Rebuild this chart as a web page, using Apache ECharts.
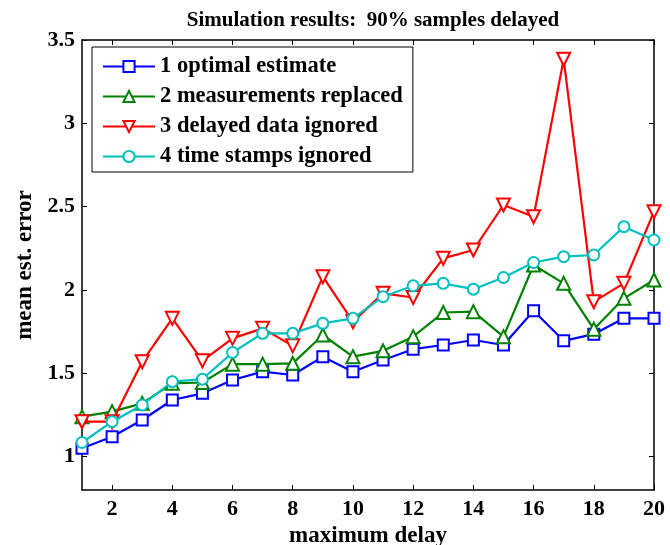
<!DOCTYPE html>
<html><head><meta charset="utf-8">
<script src="https://cdn.jsdelivr.net/npm/echarts@6/dist/echarts.min.js"></script>
<style>html,body{margin:0;padding:0;background:#fff}#c{width:670px;height:545px}</style>
</head><body><div id="c"></div>
<script>
const delays = [1,2,3,4,5,6,7,8,9,10,11,12,13,14,15,16,17,18,19,20];
const optimal = [1.05,1.12,1.22,1.34,1.38,1.46,1.51,1.49,1.60,1.51,1.58,1.645,1.67,1.70,1.67,1.875,1.695,1.735,1.83,1.83];
const replaced = [1.24,1.27,1.32,1.44,1.445,1.555,1.555,1.56,1.73,1.60,1.635,1.72,1.865,1.87,1.72,2.15,2.04,1.765,1.95,2.06];
const ignoredDelayed = [1.21,1.21,1.57,1.83,1.575,1.71,1.77,1.665,2.08,1.81,1.98,1.955,2.19,2.24,2.51,2.44,3.385,1.93,2.04,2.47];
const ignoredStamps = [1.085,1.21,1.31,1.45,1.465,1.625,1.74,1.74,1.80,1.83,1.96,2.025,2.04,2.005,2.075,2.165,2.20,2.21,2.38,2.30];
const xTicks = [2,4,6,8,10,12,14,16,18,20];
const yTicks = [1,1.5,2,2.5,3,3.5];
const names = ['1 optimal estimate','2 measurements replaced','3 delayed data ignored','4 time stamps ignored'];
const colors = ['#0000FF','#008000','#FF0000','#00BFBF'];
const symbols = ['rect','path://M5,0 L10,9 L0,9 Z','path://M0,0 L10,0 L5,9 Z','circle'];
const sizes = [11,13,13,11];
const series = [optimal, replaced, ignoredDelayed, ignoredStamps];

const font = 'Liberation Serif';
const chart = echarts.init(document.getElementById('c'));
const mkX = (show, pos) => ({
  type:'value', min:1, max:20, position:pos, gridIndex:0,
  axisLine:{show:true, onZero:false, lineStyle:{color:'#000', width:1.5}},
  axisTick:{show:true, inside:true, length:5, customValues:xTicks, lineStyle:{color:'#000'}},
  axisLabel:{show:show, customValues:xTicks, color:'#000', fontFamily:font, fontWeight:'bold', fontSize:22, margin:8},
  splitLine:{show:false}
});
const mkY = (show, pos) => ({
  type:'value', min:0.8, max:3.5, position:pos, gridIndex:0,
  axisLine:{show:true, onZero:false, lineStyle:{color:'#000', width:1.5}},
  axisTick:{show:true, inside:true, length:5, customValues:yTicks, lineStyle:{color:'#000'}},
  axisLabel:{show:show, customValues:yTicks, color:'#000', fontFamily:font, fontWeight:'bold', fontSize:22, margin:7},
  splitLine:{show:false}
});
const xa = mkX(true,'bottom');
xa.name = 'maximum delay'; xa.nameLocation='middle'; xa.nameGap=29;
xa.nameTextStyle = {color:'#000', fontFamily:font, fontWeight:'bold', fontSize:23};
const ya = mkY(true,'left');
ya.name = 'mean est. error'; ya.nameLocation='middle'; ya.nameGap=44;
ya.nameTextStyle = {color:'#000', fontFamily:font, fontWeight:'bold', fontSize:23};

chart.setOption({
  animation:false,
  backgroundColor:'#fff',
  title:{text:'Simulation results:  90% samples delayed', left:368, textAlign:'center', top:5,
    textStyle:{color:'#000', fontFamily:font, fontWeight:'bold', fontSize:21}},
  grid:{left:82, right:16, top:40, bottom:55, outerBoundsMode:'none', containLabel:false},
  xAxis:[xa, mkX(false,'top')],
  yAxis:[ya, mkY(false,'right')],
  legend:{
    orient:'vertical', left:92, top:47,
    backgroundColor:'#fff', borderColor:'#000', borderWidth:1,
    padding:[8,10,4,10], itemGap:7, itemWidth:52, itemHeight:14,
    textStyle:{color:'#000', fontFamily:font, fontWeight:'bold', fontSize:22.5, lineHeight:22},
    data:names
  },
  series: series.map((d,i)=>({
    name:names[i], type:'line', xAxisIndex:0, yAxisIndex:0,
    data: delays.map((x,j)=>[x,d[j]]),
    symbol:symbols[i], symbolSize:sizes[i], showAllSymbol:true,
    lineStyle:{color:colors[i], width:2.2},
    itemStyle:{color:'#fff', borderColor:colors[i], borderWidth:2},
    emphasis:{disabled:true}, z: 2+i
  }))
});
</script></body></html>
